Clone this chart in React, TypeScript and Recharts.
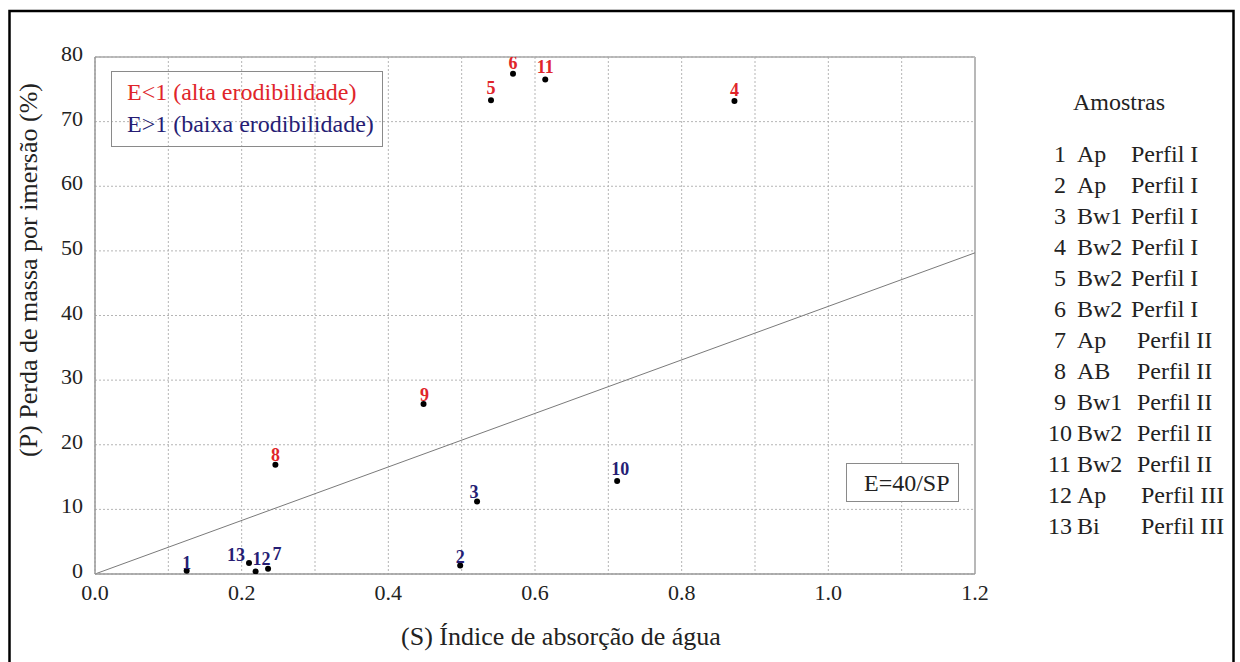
import React from "react";
import {
  ScatterChart,
  Scatter,
  XAxis,
  YAxis,
  CartesianGrid,
  ReferenceLine,
} from "recharts";

// ---- data ----
const sampleIds = [1, 2, 3, 4, 5, 6, 7, 8, 9, 10, 11, 12, 13];
const absorptionS = [0.125, 0.498, 0.521, 0.872, 0.54, 0.57, 0.236, 0.246, 0.448, 0.712, 0.614, 0.219, 0.21];
const massLossP = [0.5, 1.3, 11.2, 73.2, 73.3, 77.4, 0.8, 16.9, 26.3, 14.4, 76.5, 0.4, 1.7];
const highErodibilityIds = [4, 5, 6, 8, 9, 11];
const horizons = ["Ap", "Ap", "Bw1", "Bw2", "Bw2", "Bw2", "Ap", "AB", "Bw1", "Bw2", "Bw2", "Ap", "Bi"];
const profiles = [
  "Perfil I", "Perfil I", "Perfil I", "Perfil I", "Perfil I", "Perfil I",
  "Perfil II", "Perfil II", "Perfil II", "Perfil II", "Perfil II",
  "Perfil III", "Perfil III",
];
const xTicks = [0, 0.1, 0.2, 0.3, 0.4, 0.5, 0.6, 0.7, 0.8, 0.9, 1.0, 1.1, 1.2];
const yTicks = [0, 10, 20, 30, 40, 50, 60, 70, 80];
const boundaryLine = [
  { x: 0, y: 0 },
  { x: 1.2, y: 49.7 },
];
const legendHigh = "E<1 (alta erodibilidade)";
const legendLow = "E>1 (baixa erodibilidade)";
const equationText = "E=40/SP";
const xTitle = "(S) Índice de absorção de água";
const yTitle = "(P) Perda de massa por imersão (%)";
const legendTitle = "Amostras";

const rows = sampleIds.map((id, i) => ({ id, s: absorptionS[i], p: massLossP[i] }));
const highRows = rows.filter((r) => highErodibilityIds.includes(r.id));
const lowRows = rows.filter((r) => !highErodibilityIds.includes(r.id));

const RED = "#e0252a";
const BLUE = "#261d74";
const FONT = "Liberation Serif, serif";

const labelPlacement = (id: number): [number, number, string] => {
  switch (id) {
    case 1: return [0, -2, "middle"];
    case 2: return [0, -3, "middle"];
    case 3: return [-3, -4, "middle"];
    case 4: return [0, -5, "middle"];
    case 5: return [0, -6, "middle"];
    case 6: return [0, -5, "middle"];
    case 7: return [9, -9, "middle"];
    case 8: return [0, -4, "middle"];
    case 9: return [1, -3, "middle"];
    case 10: return [3, -6, "middle"];
    case 11: return [0, -7, "middle"];
    case 12: return [6, -6, "middle"];
    case 13: return [-4, -2, "end"];
    default: return [0, -5, "middle"];
  }
};

const makeShape = (color: string) => (props: any) => {
  const { cx, cy, payload } = props;
  const [dx, dy, anchor] = labelPlacement(payload.id);
  return (
    <g>
      <circle cx={cx} cy={cy} r={3} fill="#000" />
      <text
        x={cx + dx}
        y={cy + dy}
        textAnchor={anchor as any}
        fill={color}
        fontFamily={FONT}
        fontWeight="bold"
        fontSize={18}
      >
        {payload.id}
      </text>
    </g>
  );
};

const XTick = (props: any) => {
  const { x, y, payload } = props;
  const v = payload.value;
  if (Math.round(v * 10) % 2 !== 0) return <g />;
  return (
    <text x={x} y={y + 18} textAnchor="middle" fontFamily={FONT} fontSize={22} fill="#222">
      {v.toFixed(1)}
    </text>
  );
};

const YTick = (props: any) => {
  const { x, y, payload } = props;
  return (
    <text x={x} y={y + 4} textAnchor="end" fontFamily={FONT} fontSize={22} fill="#222">
      {payload.value}
    </text>
  );
};

export default function App() {
  return (
    <div style={{ position: "relative", width: 1240, height: 662, overflow: "hidden", background: "#fff" }}>
      <style>{"body{margin:0}"}</style>
      <ScatterChart
        width={1240}
        height={662}
        margin={{ top: 57, right: 265, bottom: 48, left: 35 }}
      >
        <CartesianGrid stroke="#b5b5b5" strokeDasharray="2 2" strokeWidth={1} />
        <XAxis
          type="number"
          dataKey="s"
          domain={[0, 1.2]}
          ticks={xTicks}
          interval={0}
          height={40}
          tickLine={false}
          tickSize={6}
          tickMargin={2}
          axisLine={{ stroke: "#999", strokeWidth: 1.5 }}
          tick={<XTick />}
          allowDataOverflow
        />
        <YAxis
          type="number"
          dataKey="p"
          domain={[0, 80]}
          ticks={yTicks}
          interval={0}
          width={60}
          tickLine={false}
          tickSize={6}
          tickMargin={6}
          axisLine={{ stroke: "#999", strokeWidth: 1.5 }}
          tick={<YTick />}
          allowDataOverflow
        />
        <ReferenceLine y={80} stroke="#a8a8a8" strokeWidth={1.5} />
        <ReferenceLine x={1.2} stroke="#b8b8b8" strokeWidth={2} />
        <ReferenceLine segment={boundaryLine} stroke="#7a7a7a" strokeWidth={1} />
        <Scatter data={highRows} shape={makeShape(RED)} isAnimationActive={false} />
        <Scatter data={lowRows} shape={makeShape(BLUE)} isAnimationActive={false} />
      </ScatterChart>

      <svg
        width={1240}
        height={662}
        style={{ position: "absolute", left: 0, top: 0, pointerEvents: "none" }}
      >
        <rect x={9.5} y={11} width={1224} height={700} fill="none" stroke="#000" strokeWidth={2.5} />
        {/* legend box */}
        <rect x={111.5} y={71.5} width={271} height={75} fill="none" stroke="#8a8a8a" strokeWidth={1} />
        <text x={127} y={100} fontFamily={FONT} fontSize={24} fill={RED}>{legendHigh}</text>
        <text x={127} y={132} fontFamily={FONT} fontSize={24} fill={BLUE}>{legendLow}</text>
        {/* equation box */}
        <rect x={846.5} y={463.5} width={112} height={38} fill="#fff" stroke="#8a8a8a" strokeWidth={1} />
        <text x={864} y={491} fontFamily={FONT} fontSize={24} fill="#222">{equationText}</text>
        {/* axis titles */}
        <text x={561} y={645} textAnchor="middle" fontFamily={FONT} fontSize={26} fill="#222">{xTitle}</text>
        <text
          transform="translate(37,270) rotate(-90)"
          textAnchor="middle"
          fontFamily={FONT}
          fontSize={26}
          fill="#222"
        >
          {yTitle}
        </text>
        {/* samples legend */}
        <text x={1073} y={110} fontFamily={FONT} fontSize={24} fill="#222">{legendTitle}</text>
        {sampleIds.map((id, i) => {
          const y = 162 + i * 31;
          const perfilX = profiles[i] === "Perfil III" ? 1141 : profiles[i] === "Perfil II" ? 1137 : 1131;
          return (
            <g key={id} fontFamily={FONT} fontSize={24} fill="#222">
              <text x={id >= 10 ? 1048 : 1054} y={y}>{id}</text>
              <text x={1077} y={y}>{horizons[i]}</text>
              <text x={perfilX} y={y}>{profiles[i]}</text>
            </g>
          );
        })}
      </svg>
    </div>
  );
}
